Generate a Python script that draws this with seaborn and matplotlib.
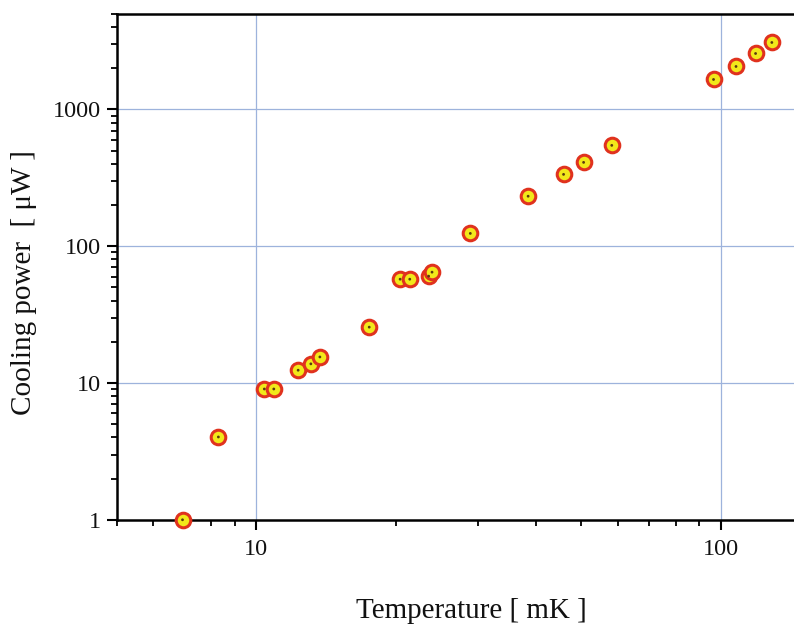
import numpy as np
import pandas as pd
import matplotlib
matplotlib.use("Agg")
import matplotlib.pyplot as plt
import matplotlib.ticker as mticker
import seaborn as sns

# values (log-log)
temperature_mK = [6.93, 8.28, 10.4, 10.9, 12.3, 13.1, 13.7, 17.5, 20.4, 21.4,
                  23.5, 23.9, 28.9, 38.5, 45.9, 50.7, 58.3, 96.6, 108, 119, 129]
cooling_uW = [1.0, 4.03, 9.04, 9.04, 12.4, 13.8, 15.5, 25.6, 57.4, 57.4,
              60.4, 64.6, 124, 232, 335, 410, 546, 1655, 2060, 2563, 3085]
x_ticks = [10, 100]
y_ticks = [1, 10, 100, 1000]

df = pd.DataFrame({"T": temperature_mK, "P": cooling_uW})

sns.set_style("white")
plt.rcParams["font.family"] = ["Liberation Serif", "DejaVu Serif"]

fig = plt.figure(figsize=(7.94, 6.27), dpi=100)
ax = fig.add_axes([0.147, 0.171, 0.853, 0.807])

ax.set_xscale("log")
ax.set_yscale("log")
ax.set_xlim(5, 144)
ax.set_ylim(1, 5000)

for v in x_ticks:
    ax.axvline(v, color="#9db3dc", lw=0.9, zorder=0)
for v in y_ticks[1:]:
    ax.axhline(v, color="#9db3dc", lw=0.9, zorder=0)

sns.scatterplot(data=df, x="T", y="P", ax=ax, s=110, color="#f2e81a",
                edgecolor="#e0321e", linewidth=2.2, zorder=3, clip_on=False,
                legend=False)
sns.scatterplot(data=df, x="T", y="P", ax=ax, s=4, color="#5a3a10",
                edgecolor="none", zorder=4, clip_on=False, legend=False)

ax.set_xticks(x_ticks)
ax.set_yticks(y_ticks)
ax.xaxis.set_major_formatter(mticker.FuncFormatter(lambda v, p: f"{v:g}"))
ax.yaxis.set_major_formatter(mticker.FuncFormatter(lambda v, p: f"{v:g}"))
ax.xaxis.set_minor_locator(mticker.LogLocator(base=10, subs=np.arange(2, 10)))
ax.yaxis.set_minor_locator(mticker.LogLocator(base=10, subs=np.arange(2, 10)))
ax.xaxis.set_minor_formatter(mticker.NullFormatter())
ax.yaxis.set_minor_formatter(mticker.NullFormatter())

ax.tick_params(axis="both", which="major", direction="out", length=7, width=1.5,
               labelsize=17.5, color="black", labelcolor="#111111")
ax.tick_params(axis="both", which="minor", direction="out", length=4.5, width=1.3,
               color="black")
ax.tick_params(axis="x", which="major", pad=7)
ax.tick_params(axis="y", which="major", pad=4)
ax.xaxis.set_ticks_position("bottom")
ax.yaxis.set_ticks_position("left")

for side in ["left", "bottom", "top"]:
    ax.spines[side].set_color("black")
    ax.spines[side].set_linewidth(1.8)
ax.spines["right"].set_visible(False)

ax.set_xlabel("Temperature [ mK ]", fontsize=21, color="#111111")
ax.set_ylabel("Cooling power  [ μW ]", fontsize=21, color="#111111")
ax.xaxis.set_label_coords(0.523, -0.155)
ax.yaxis.set_label_coords(-0.118, 0.468)

fig.savefig("out.png", dpi=100)
